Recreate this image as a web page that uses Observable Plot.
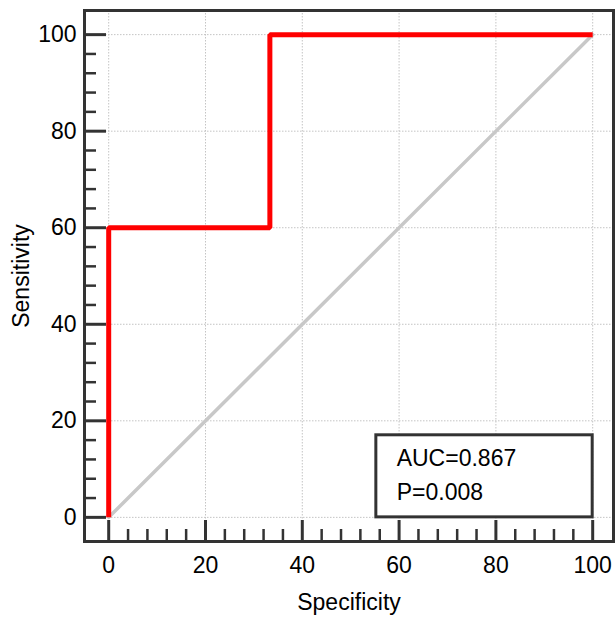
<!DOCTYPE html>
<html>
<head>
<meta charset="utf-8">
<script src="https://cdn.jsdelivr.net/npm/d3@7"></script>
<script src="https://cdn.jsdelivr.net/npm/@observablehq/plot@0.6"></script>
<style>
  html, body { margin: 0; padding: 0; background: #fff; }
  #chart { width: 616px; height: 617px; }
</style>
</head>
<body>
<div id="chart"></div>
<script>
// ROC curve points (Specificity-axis value, Sensitivity)
const rocX = [0, 0, 33.3, 33.3, 100];
const rocY = [0, 60, 60, 100, 100];
// Reference diagonal
const diagX = [0, 100];
const diagY = [0, 100];
// Ticks
const majorTicks = [0, 20, 40, 60, 80, 100];
const minorTicks = d3.range(0, 101, 4).filter(v => v % 20 !== 0);
// Annotation texts
const statLabels = ["AUC=0.867", "P=0.008"];

const roc = rocX.map((x, i) => ({x, y: rocY[i]}));
const diag = diagX.map((x, i) => ({x, y: diagY[i]}));
const stats = statLabels.map((t, i) => ({t, y: i === 0 ? 12.1 : 5.1}));

const dark = "#333";
const chart = Plot.plot({
  width: 616,
  height: 617,
  marginLeft: 84,
  marginRight: 3,
  marginTop: 10,
  marginBottom: 76,
  style: {fontFamily: "'Liberation Sans', Arial, Helvetica, sans-serif", fontSize: "23px", color: "#000", background: "#fff"},
  x: {domain: [-5, 104.3]},
  y: {domain: [-5, 105]},
  marks: [
    Plot.gridX(majorTicks, {stroke: "#c4c4c4", strokeOpacity: 1, strokeDasharray: "1.5,1.5", strokeWidth: 1}),
    Plot.gridY(majorTicks, {stroke: "#c4c4c4", strokeOpacity: 1, strokeDasharray: "1.5,1.5", strokeWidth: 1}),
    Plot.line(diag, {x: "x", y: "y", stroke: "#c8c8c8", strokeWidth: 3.5}),
    Plot.line(roc, {x: "x", y: "y", stroke: "#ff0000", strokeWidth: 5, strokeLinejoin: "miter", strokeLinecap: "butt"}),
    Plot.rect([{}], {x1: 55.3, x2: 100, y1: 0, y2: 17, fill: "#fff", stroke: dark, strokeWidth: 3}),
    Plot.text(stats, {x: 59.5, y: "y", text: "t", textAnchor: "start", fontSize: 23, fill: "#000"}),
    // inward major & minor ticks
    Plot.axisX(majorTicks, {anchor: "bottom", tickSize: -21, tickFormat: () => "", stroke: dark, strokeWidth: 3, label: null}),
    Plot.axisX(minorTicks, {anchor: "bottom", tickSize: -12, tickFormat: () => "", stroke: dark, strokeWidth: 2.5, label: null}),
    Plot.axisY(majorTicks, {anchor: "left", tickSize: -22, tickFormat: () => "", stroke: dark, strokeWidth: 3, label: null}),
    Plot.axisY(minorTicks, {anchor: "left", tickSize: -12, tickFormat: () => "", stroke: dark, strokeWidth: 2.5, label: null}),
    // labels
    Plot.axisX(majorTicks, {anchor: "bottom", tickSize: 0, tickPadding: 15, fontSize: 23, fill: "#000",
      label: "Specificity", labelAnchor: "center", labelArrow: "none", labelOffset: 68}),
    Plot.axisY(majorTicks, {anchor: "left", tickSize: 0, tickPadding: 8, fontSize: 23, fill: "#000",
      label: "Sensitivity", labelAnchor: "center", labelArrow: "none", labelOffset: 72}),
    Plot.frame({stroke: dark, strokeWidth: 3})
  ]
});
document.getElementById("chart").appendChild(chart);
</script>
</body>
</html>
